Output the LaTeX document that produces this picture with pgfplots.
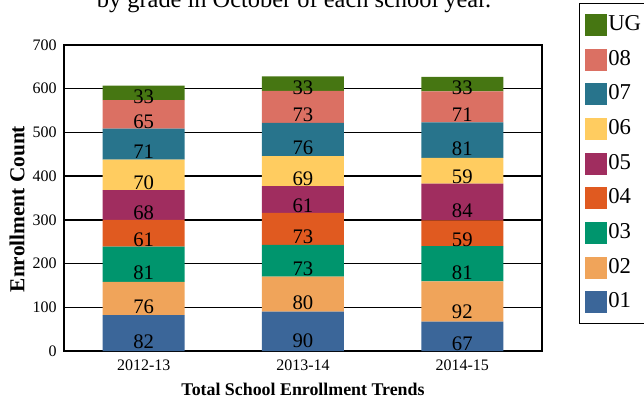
\documentclass[border=0pt]{standalone}
\usepackage{pgfplots}
\pgfplotsset{compat=1.18}
\usepackage{pgfplotstable}
\usepackage{fontspec}
\setmainfont{Liberation Serif}
\definecolor{cUG}{RGB}{70,118,18}
\definecolor{c08}{RGB}{219,112,99}
\definecolor{c07}{RGB}{40,116,140}
\definecolor{c06}{RGB}{255,204,96}
\definecolor{c05}{RGB}{160,45,95}
\definecolor{c04}{RGB}{224,90,32}
\definecolor{c03}{RGB}{0,149,109}
\definecolor{c02}{RGB}{240,164,90}
\definecolor{c01}{RGB}{59,102,153}
\pgfplotstableread{
x g01 g02 g03 g04 g05 g06 g07 g08 gUG
0 82 76 81 61 68 70 71 65 33
1 90 80 73 73 61 69 76 73 33
2 67 92 81 59 84 59 81 71 33
}\enroll
\begin{document}
\begin{tikzpicture}
\path[use as bounding box] (0,0) rectangle (483pt,300.75pt);
\begin{axis}[
  at={(48pt,37.5pt)}, anchor=south west,
  scale only axis, width=358.5pt, height=229.5pt,
  ybar stacked, bar width=61.5pt,
  xmin=-0.5, xmax=2.5, ymin=0, ymax=700,
  xtick={0,1,2}, xticklabels={2012-13,2013-14,2014-15},
  ytick={0,100,...,700},
  ymajorgrids, major grid style={black, line width=1.1pt},
  major tick length=0pt,
  axis line style={line width=1.6pt},
  tick label style={font=\fontsize{12}{14}\selectfont},
  /pgf/number format/assume math mode=true,
  yticklabel style={inner sep=0pt, xshift=-5.25pt},
  xticklabel style={inner sep=0pt, yshift=-6.75pt},
  xlabel={Total School Enrollment Trends},
  xlabel style={font=\fontsize{13.4}{16}\selectfont\bfseries, at={(axis description cs:0.5,-0.1438)}, anchor=base},
  ylabel={Enrollment Count},
  ylabel style={font=\fontsize{16}{19}\selectfont\bfseries, at={(axis description cs:-0.0983,0.464)}, anchor=center},
  nodes near coords={\pgfmathprintnumber{\rawy}},
  visualization depends on={rawy \as \rawy},
  every node near coord/.append style={font=\fontsize{15.5}{18}\selectfont, black, anchor=center, inner sep=0pt, yshift={-0.0819645pt*\rawy}},
  reverse legend,
  legend image code/.code={\fill[#1, draw=none] (0pt,-8.25pt) rectangle (16.5pt,8.25pt);},
  legend style={at={(axis description cs:1.0774,1.1373)}, anchor=north west, draw=black, line width=1pt,
    font=\fontsize{17}{20}\selectfont, row sep=7.5pt, inner ysep=6.75pt, inner xsep=4pt,
    nodes={inner sep=1pt, text height=12.5pt, text depth=4pt}},
  legend cell align=left,
]
\addplot[fill=c01, draw=none] table[x=x, y=g01] {\enroll};
\addplot[fill=c02, draw=none] table[x=x, y=g02] {\enroll};
\addplot[fill=c03, draw=none] table[x=x, y=g03] {\enroll};
\addplot[fill=c04, draw=none] table[x=x, y=g04] {\enroll};
\addplot[fill=c05, draw=none] table[x=x, y=g05] {\enroll};
\addplot[fill=c06, draw=none] table[x=x, y=g06] {\enroll};
\addplot[fill=c07, draw=none] table[x=x, y=g07] {\enroll};
\addplot[fill=c08, draw=none] table[x=x, y=g08] {\enroll};
\addplot[fill=cUG, draw=none] table[x=x, y=gUG] {\enroll};
\legend{01,02,03,04,05,06,07,08,UG}
\end{axis}
\node[anchor=base, font=\fontsize{18.3}{22}\selectfont] at (220.5pt,295.1pt) {by grade in October of each school year.};
\end{tikzpicture}
\end{document}
